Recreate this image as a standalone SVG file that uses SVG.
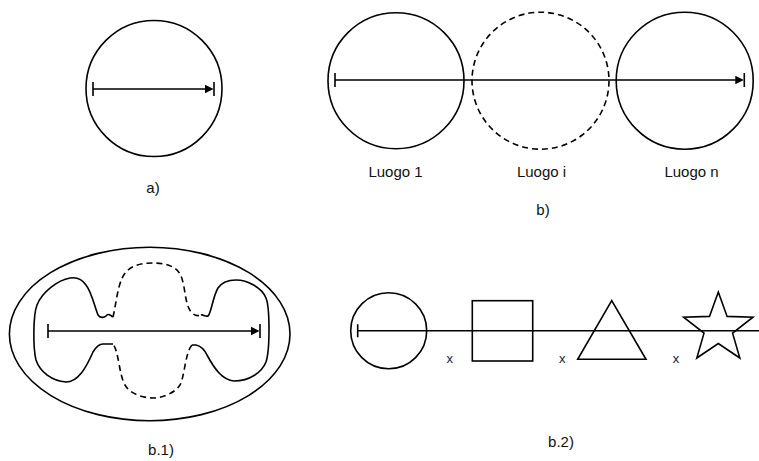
<svg xmlns="http://www.w3.org/2000/svg" width="759" height="461" viewBox="0 0 759 461">
<style>
.s{fill:none;stroke:#000;stroke-width:1.6}
.d{fill:none;stroke:#000;stroke-width:1.6;stroke-dasharray:6 4}
.ah{fill:#000;stroke:none}
.t{font-family:"Liberation Sans",Arial,sans-serif;font-size:15px;fill:#111;text-anchor:middle}
.x{font-family:"Liberation Sans",Arial,sans-serif;font-size:13px;fill:#223;text-anchor:middle}
</style>
<rect width="759" height="461" fill="#fff"/>
<g id="node-a">
<circle class="s" cx="154" cy="88.5" r="68"/>
<text class="t" x="153" y="193">a)</text>
</g>
<g id="node-luogo1">
<circle class="s" cx="396" cy="80.7" r="68"/>
<text class="t" x="395.5" y="177">Luogo 1</text>
</g>
<g id="node-luogoi">
<circle class="d" cx="540.5" cy="80.7" r="68.5"/>
<text class="t" x="541.5" y="177">Luogo i</text>
</g>
<g id="node-luogon">
<circle class="s" cx="684.7" cy="80.7" r="68.5"/>
<text class="t" x="691.5" y="177">Luogo n</text>
</g>
<g id="label-b"><text class="t" x="543" y="215">b)</text></g>
<g id="node-b1">
<ellipse class="s" cx="149.7" cy="334" rx="140.3" ry="86.7"/>
<path class="s" d="M113,317 C110,315 108,313 106,316 C104,318 100,318 98,315 C94,305 92,293 86,285 C82,279 76,277 70,278 C58,280 42,292 37,305 C33,315 33,348 36,360 C40,372 52,381 66,382 C78,382 86,368 93,352 C96,347 100,344 103,344 L113,344"/>
<path class="d" d="M113,317 C117,300 118,278 128,270 C135,264 145,263 153,263 C163,263 175,265 180,274 C186,285 184,305 192,313 C195,316 198,316 201,315"/>
<path class="s" d="M201,315 C203,314 205,317 208,316 C211,314 213,296 218,288 C222,282 228,280 236,280 C248,280 262,288 266,298 C270,308 270,350 266,362 C262,372 250,381 234,381 C222,380 214,368 207,355 C204,349 201,346 196,345 L192,345"/>
<path class="d" d="M192,345 C185,353 185,375 180,385 C175,393 162,398 153,398 C143,398 130,394 125,385 C119,375 119,352 113,344"/>
<text class="t" x="161" y="455">b.1)</text>
</g>
<g id="node-b2">
<circle class="s" cx="388.7" cy="330.8" r="38"/>
<rect class="s" x="472.3" y="300.7" width="60.4" height="60.3"/>
<polygon class="s" points="611.7,300.7 577.7,359.3 646,359.3"/>
<polygon class="s" points="718.3,292 727.1,316.4 753,317.2 732.6,333.1 739.8,358 718.3,343.5 696.8,358 704,333.1 683.6,317.2 709.5,316.4"/>
<text class="x" x="449.7" y="363">x</text>
<text class="x" x="562.3" y="363">x</text>
<text class="x" x="676" y="363">x</text>
<text class="t" x="561" y="447">b.2)</text>
</g>
<g id="connectors">
<path class="s" d="M93,89 H207 M93,82 V96 M214,82 V96"/>
<polygon class="ah" points="213.5,89 205,84.8 205,93.2"/>
<path class="s" d="M335,80 H737 M335,73 V87 M744.3,73 V87"/>
<polygon class="ah" points="743.8,80 735.3,75.8 735.3,84.2"/>
<path class="s" d="M48,331 H253 M48,324 V338 M260,324 V338"/>
<polygon class="ah" points="259.5,331 251,326.8 251,335.2"/>
<path class="s" d="M357.7,330.7 H759 M357.7,324.3 V337.3"/>
</g>
</svg>
